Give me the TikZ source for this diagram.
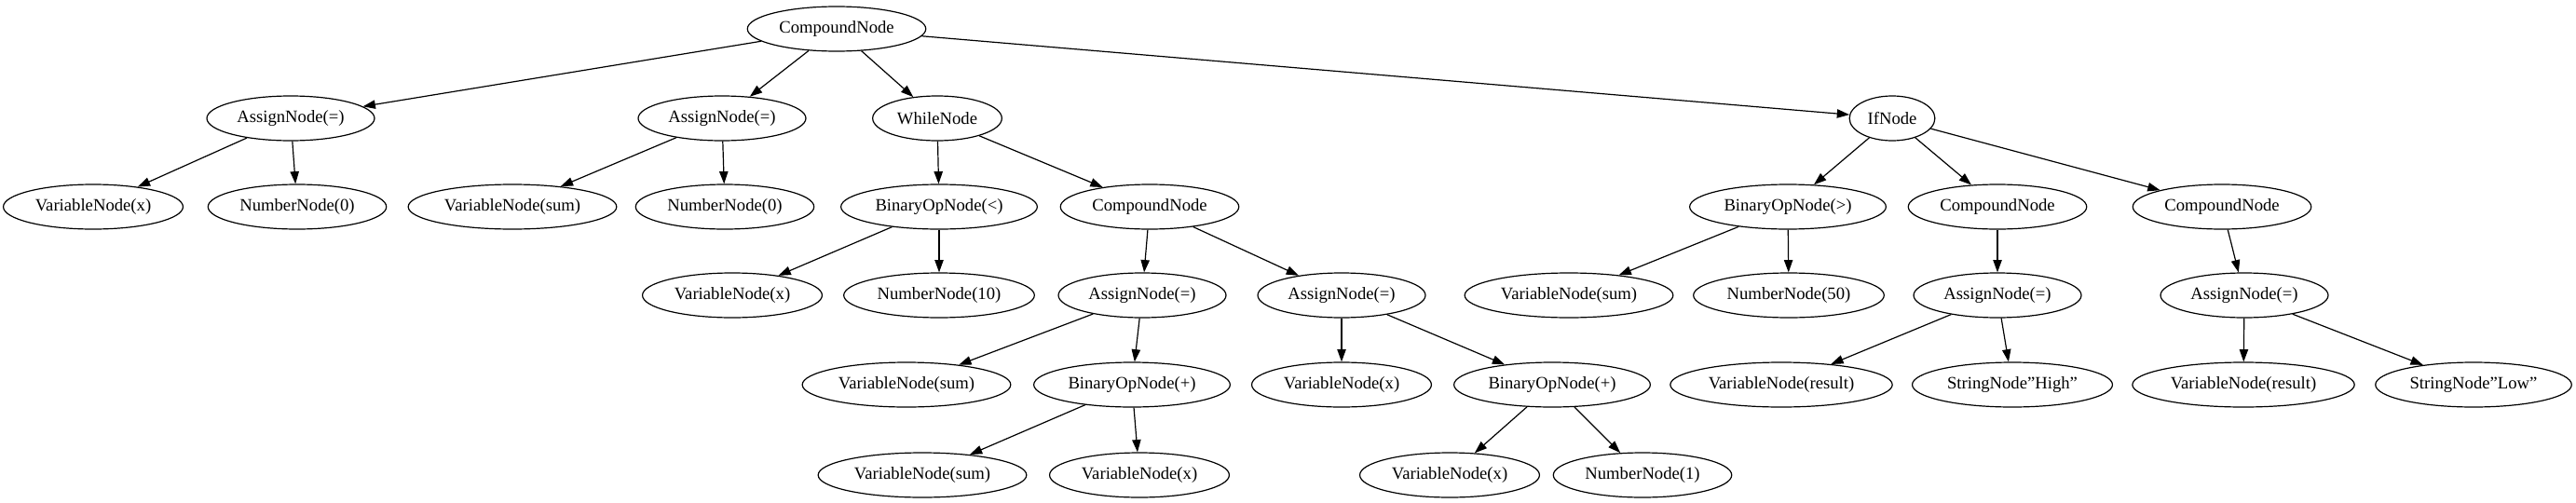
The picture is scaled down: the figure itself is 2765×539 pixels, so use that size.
\documentclass[tikz,border=0pt]{standalone}
\usepackage{fontspec}
\setmainfont{Liberation Serif}
\usetikzlibrary{arrows.meta,shapes.geometric}
\begin{document}
\begin{tikzpicture}[x=0.75pt, y=-0.75pt,
    ast/.style={draw, ellipse, line width=0.9pt, inner xsep=4.5pt, inner ysep=0pt,
      minimum height=36pt, font=\fontsize{14}{16}\selectfont},
    edge/.style={->, line width=0.9pt, >={Triangle[length=10pt, width=7pt]}}]
  \useasboundingbox (0,0) rectangle (2765,539);
  % rank 0
  \node [ast] (root) at (898,31) {CompoundNode};
  % rank 1
  \node [ast] (asgx) at (312,127) {AssignNode(=)};
  \node [ast] (asgsum) at (775,127) {AssignNode(=)};
  \node [ast] (while) at (1006,127) {WhileNode};
  \node [ast] (if) at (2031,127) {IfNode};
  % rank 2
  \node [ast] (varx) at (100,222) {VariableNode(x)};
  \node [ast] (numzero) at (319,222) {NumberNode(0)};
  \node [ast] (varsum) at (550,222) {VariableNode(sum)};
  \node [ast] (numzerob) at (778,222) {NumberNode(0)};
  \node [ast] (binlt) at (1008,222) {BinaryOpNode(<)};
  \node [ast] (body) at (1234,222) {CompoundNode};
  \node [ast] (bingt) at (1919,222) {BinaryOpNode(>)};
  \node [ast] (then) at (2144,222) {CompoundNode};
  \node [ast] (else) at (2385,222) {CompoundNode};
  % rank 3
  \node [ast] (condx) at (786,317) {VariableNode(x)};
  \node [ast] (numten) at (1008,317) {NumberNode(10)};
  \node [ast] (asgbody) at (1226,317) {AssignNode(=)};
  \node [ast] (asgincr) at (1440,317) {AssignNode(=)};
  \node [ast] (condsum) at (1684,317) {VariableNode(sum)};
  \node [ast] (numfifty) at (1920,317) {NumberNode(50)};
  \node [ast] (asghigh) at (2144,317) {AssignNode(=)};
  \node [ast] (asglow) at (2409,317) {AssignNode(=)};
  % rank 4
  \node [ast] (lhssum) at (973,413) {VariableNode(sum)};
  \node [ast] (addsum) at (1215,413) {BinaryOpNode(+)};
  \node [ast] (lhsx) at (1440,413) {VariableNode(x)};
  \node [ast] (addx) at (1666,413) {BinaryOpNode(+)};
  \node [ast] (reshigh) at (1912,413) {VariableNode(result)};
  \node [ast] (strhigh) at (2160,413) {StringNode"High"};
  \node [ast] (reslow) at (2408,413) {VariableNode(result)};
  \node [ast] (strlow) at (2655,413) {StringNode"Low"};
  % rank 5
  \node [ast] (opsum) at (990,510) {VariableNode(sum)};
  \node [ast] (opx) at (1223,510) {VariableNode(x)};
  \node [ast] (opxb) at (1556,510) {VariableNode(x)};
  \node [ast] (numone) at (1763,510) {NumberNode(1)};
  % edges
  \draw [edge] (root) -- (asgx);
  \draw [edge] (root) -- (asgsum);
  \draw [edge] (root) -- (while);
  \draw [edge] (root) -- (if);
  \draw [edge] (asgx) -- (varx);
  \draw [edge] (asgx) -- (numzero);
  \draw [edge] (asgsum) -- (varsum);
  \draw [edge] (asgsum) -- (numzerob);
  \draw [edge] (while) -- (binlt);
  \draw [edge] (while) -- (body);
  \draw [edge] (binlt) -- (condx);
  \draw [edge] (binlt) -- (numten);
  \draw [edge] (body) -- (asgbody);
  \draw [edge] (body) -- (asgincr);
  \draw [edge] (asgbody) -- (lhssum);
  \draw [edge] (asgbody) -- (addsum);
  \draw [edge] (addsum) -- (opsum);
  \draw [edge] (addsum) -- (opx);
  \draw [edge] (asgincr) -- (lhsx);
  \draw [edge] (asgincr) -- (addx);
  \draw [edge] (addx) -- (opxb);
  \draw [edge] (addx) -- (numone);
  \draw [edge] (if) -- (bingt);
  \draw [edge] (if) -- (then);
  \draw [edge] (if) -- (else);
  \draw [edge] (bingt) -- (condsum);
  \draw [edge] (bingt) -- (numfifty);
  \draw [edge] (then) -- (asghigh);
  \draw [edge] (asghigh) -- (reshigh);
  \draw [edge] (asghigh) -- (strhigh);
  \draw [edge] (else) -- (asglow);
  \draw [edge] (asglow) -- (reslow);
  \draw [edge] (asglow) -- (strlow);
\end{tikzpicture}
\end{document}
